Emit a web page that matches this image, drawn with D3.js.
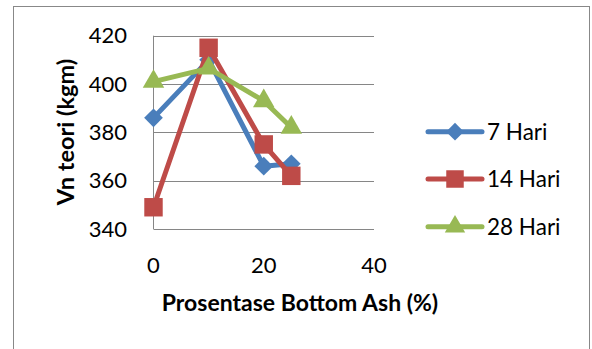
<!DOCTYPE html>
<html>
<head>
<meta charset="utf-8">
<script src="https://cdn.jsdelivr.net/npm/d3@7"></script>
<style>
  body { margin: 0; background: #fff; }
  text { font-family: Lato, "Open Sans", sans-serif; fill: #000; }
</style>
</head>
<body>
<div id="chart"></div>
<script>
// data
var xValues = [0, 10, 20, 25];
var hari7 = [386, 410, 366, 367];
var hari14 = [349, 415, 375, 362];
var hari28 = [401, 406.5, 393, 382];
var seriesNames = ["7 Hari", "14 Hari", "28 Hari"];
var xTicks = [0, 20, 40];
var yTicks = [340, 360, 380, 400, 420];

var colors = ["#4A7EBB", "#BE4B48", "#98B954"];
// diamond = square turned 45 degrees
var shapes = [d3.symbolSquare, d3.symbolSquare, d3.symbolTriangle];
var sizes = [175, 340, 200];
var turns = [45, 0, 0];

var W = 592, H = 349;
var svg = d3.select("#chart").append("svg")
    .attr("width", W)
    .attr("height", H);

// chart border
svg.append("rect")
    .attr("x", 13.5).attr("y", 6.5)
    .attr("width", 576).attr("height", 360)
    .attr("fill", "#fff")
    .attr("stroke", "#888");

var x = d3.scaleLinear().domain([0, 40]).range([153.5, 374]);
var y = d3.scaleLinear().domain([340, 420]).range([229, 35.7]);

// gridlines
svg.append("g")
    .selectAll("line")
    .data(yTicks)
    .enter().append("line")
    .attr("x1", x(0)).attr("x2", x(40))
    .attr("y1", function(d) { return Math.round(y(d)) + 0.5; })
    .attr("y2", function(d) { return Math.round(y(d)) + 0.5; })
    .attr("stroke", "#868686");

svg.append("line")
    .attr("x1", x(0)).attr("x2", x(0))
    .attr("y1", y(420)).attr("y2", y(340))
    .attr("stroke", "#868686");

// y tick labels
svg.append("g")
    .selectAll("text")
    .data(yTicks)
    .enter().append("text")
    .attr("x", 127)
    .attr("y", function(d) { return y(d); })
    .attr("dy", "0.35em")
    .attr("text-anchor", "end")
    .style("font-size", "22px")
    .text(function(d) { return d; });

// x tick labels
svg.append("g")
    .selectAll("text")
    .data(xTicks)
    .enter().append("text")
    .attr("x", function(d) { return x(d); })
    .attr("y", 265)
    .attr("dy", "0.35em")
    .attr("text-anchor", "middle")
    .style("font-size", "22px")
    .text(function(d) { return d; });

// axis titles
svg.append("text")
    .attr("x", 300)
    .attr("y", 303)
    .attr("dy", "0.35em")
    .attr("text-anchor", "middle")
    .style("font-size", "23px")
    .style("font-weight", "bold")
    .text("Prosentase Bottom Ash (%)");

svg.append("text")
    .attr("transform", "translate(66,132) rotate(-90)")
    .attr("dy", "0.35em")
    .attr("text-anchor", "middle")
    .style("font-size", "23.5px")
    .style("font-weight", "bold")
    .text("Vn teori (kgm)");

var allSeries = [hari7, hari14, hari28];

var line = d3.line()
    .x(function(d, i) { return x(xValues[i]); })
    .y(function(d) { return y(d); });

allSeries.forEach(function(vals, k) {
    svg.append("path")
        .datum(vals)
        .attr("fill", "none")
        .attr("stroke", colors[k])
        .attr("stroke-width", 5)
        .attr("stroke-linejoin", "round")
        .attr("d", line);

    svg.append("g")
        .selectAll("path")
        .data(vals)
        .enter().append("path")
        .attr("transform", function(d, i) {
            return "translate(" + x(xValues[i]) + "," + y(d) + ") rotate(" + turns[k] + ")";
        })
        .attr("d", d3.symbol().type(shapes[k]).size(sizes[k]))
        .attr("fill", colors[k]);
});

// legend
var legendY = [131.7, 179, 226.7];
seriesNames.forEach(function(name, k) {
    var g = svg.append("g").attr("transform", "translate(0," + legendY[k] + ")");
    g.append("line")
        .attr("x1", 428).attr("x2", 482)
        .attr("stroke", colors[k])
        .attr("stroke-width", 5)
        .attr("stroke-linecap", "round");
    g.append("path")
        .attr("transform", "translate(455,0) rotate(" + turns[k] + ")")
        .attr("d", d3.symbol().type(shapes[k]).size(sizes[k] * 0.9))
        .attr("fill", colors[k]);
    g.append("text")
        .attr("x", 487)
        .attr("dy", "0.35em")
        .style("font-size", "22.5px")
        .text(name);
});
</script>
</body>
</html>
